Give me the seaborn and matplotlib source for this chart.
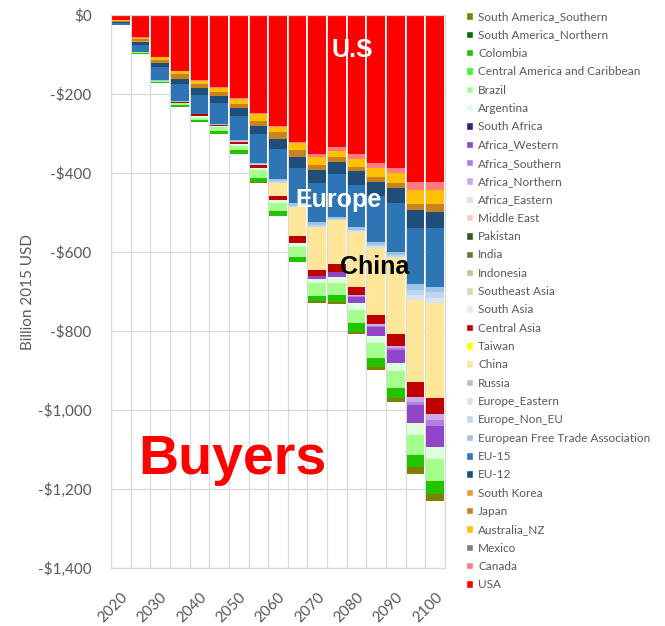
import numpy as np
import pandas as pd
import matplotlib
matplotlib.use("Agg")
import matplotlib.pyplot as plt
from matplotlib.patches import Patch
from matplotlib.ticker import FuncFormatter
import seaborn as sns

sns.set_style("white")
plt.rcParams["font.family"] = ["Lato", "DejaVu Sans"]

years = [2020, 2025, 2030, 2035, 2040, 2045, 2050, 2055, 2060,
         2065, 2070, 2075, 2080, 2085, 2090, 2095, 2100]

# spending on imports by region, billion 2015 USD (drawn as negative values)
usa          = [12.7, 56.5, 105.5, 141, 164.6, 183, 211, 249, 281, 321.5, 352, 334, 352.7, 375.4, 388, 422.8, 422.8]
canada       = [0.5, 1, 1, 1, 1.5, 1.5, 1.5, 2, 2, 2.5, 7.6, 9.4, 12.7, 11, 12.7, 20.3, 20.3]
mexico       = [0] * 17
australia_nz = [1.5, 4.3, 6.6, 8.4, 8.4, 11, 12.7, 17, 14.4, 18, 20, 16.7, 18.7, 24.3, 25.3, 35.4, 35.4]
japan        = [2, 5, 7.6, 11, 11, 10, 11, 12.7, 16.8, 17.7, 12.7, 11, 10, 11, 12.7, 15.2, 20.3]
south_korea  = [0.5, 0.5, 0.5, 0.5, 0.5, 0.5, 0.5, 0.5, 0.5, 0.5, 0.5, 0.5, 0.5, 0.5, 0.5, 0.5, 0.5]
eu_12        = [2.5, 7.6, 11, 12.7, 16.8, 16.8, 18.5, 21, 23.8, 27.8, 33, 32, 36.2, 36.2, 38, 45.6, 40.5]
eu_15        = [5.5, 17.7, 32, 44, 48, 54, 61, 72, 77.5, 88.6, 98.7, 107, 105.6, 115.7, 122.5, 141.8, 149.4]
efta         = [0.5, 1, 2.5, 1, 1, 1.5, 3, 4, 5, 6, 7, 5, 7, 8, 9, 15.2, 12.7]
europe_non_eu = [0, 0, 0, 0, 0, 0, 1.3, 1.8, 3.6, 4, 5.7, 3.4, 3.7, 4.2, 3.7, 12.7, 15.2]
europe_east  = [0, 0, 0, 0, 0, 0, 0, 0, 0, 0, 0, 0, 2, 3, 4, 12.7, 12.7]
russia       = [0] * 17
china        = [0, 0, 0, 0, 0, 0, 0, 0, 33.7, 74, 108.9, 111, 139, 170.4, 191.6, 207.6, 240.5]
taiwan       = [0] * 17
central_asia = [0, 0, 0, 2.5, 4.2, 3, 6.6, 6.8, 10, 16, 15.2, 19.5, 21, 22.8, 30.4, 38, 40.5]
south_asia   = [0] * 17
southeast_asia = [0] * 17
indonesia    = [0] * 17
india        = [0] * 17
pakistan     = [0] * 17
middle_east  = [0] * 17
africa_east  = [0] * 17
africa_north = [0, 0, 0, 0, 0, 0, 0, 0, 0, 0, 0, 2, 3, 4, 5, 12.7, 15.2]
africa_south = [0, 0, 0, 0, 0, 0, 0, 0, 0, 0, 0, 0, 2, 3, 5, 7.6, 15.2]
africa_west  = [0, 0, 0, 0, 0, 0, 0, 0, 0, 0, 7.6, 12, 16, 23.4, 33, 45.6, 53.2]
south_africa = [0] * 17
argentina    = [0, 0, 0, 0, 4.2, 3, 5, 5.8, 8.4, 10, 10, 15, 17, 17.7, 20.3, 30.4, 30.4]
brazil       = [0.5, 2, 3.8, 6.7, 5.9, 10, 10, 19.5, 19.5, 25, 33, 29.6, 33.7, 38, 43, 50.6, 55.7]
central_am   = [0] * 17
colombia     = [0, 2, 2, 4.2, 5, 7, 10, 11, 12.7, 12.7, 12.7, 19.5, 21.2, 22.8, 25.3, 30.4, 32.9]
sa_north     = [0] * 17
sa_south     = [0, 0, 0, 0, 0, 1, 0.5, 1, 1, 1.5, 5, 4, 5.8, 7.6, 10, 17.7, 17.7]

# stacking order, from the zero line downward
regions = ["USA", "Canada", "Mexico", "Australia_NZ", "Japan", "South Korea",
           "EU-12", "EU-15", "European Free Trade Association", "Europe_Non_EU",
           "Europe_Eastern", "Russia", "China", "Taiwan", "Central Asia",
           "South Asia", "Southeast Asia", "Indonesia", "India", "Pakistan",
           "Middle East", "Africa_Eastern", "Africa_Northern", "Africa_Southern",
           "Africa_Western", "South Africa", "Argentina", "Brazil",
           "Central America and Caribbean", "Colombia", "South America_Northern",
           "South America_Southern"]
values = [usa, canada, mexico, australia_nz, japan, south_korea, eu_12, eu_15,
          efta, europe_non_eu, europe_east, russia, china, taiwan, central_asia,
          south_asia, southeast_asia, indonesia, india, pakistan, middle_east,
          africa_east, africa_north, africa_south, africa_west, south_africa,
          argentina, brazil, central_am, colombia, sa_north, sa_south]
colors = ["#FF0000", "#FF7C80", "#7F7F7F", "#FFC000", "#C9821F", "#EE9B36",
          "#1F4E79", "#2E75B6", "#9DC3E6", "#BDD7EE",
          "#DAE3F3", "#BFBFBF", "#FFE699", "#FFFF00", "#C00000",
          "#E2EFDA", "#C6E0B4", "#A9D08E", "#548235", "#375623",
          "#F8CBAD", "#E6DCF5", "#CCA8EC", "#B07FE0",
          "#9146C8", "#3F1F6F", "#DDFFDD", "#A4FF8C",
          "#33FF33", "#22C400", "#0A6B0A", "#7F7F00"]
palette = dict(zip(regions, colors))

# cumulative (negative) depth of each layer; deeper layers drawn first
cum = -np.cumsum(np.array(values, dtype=float), axis=0)
rows = []
for r, reg in enumerate(regions):
    for j, yr in enumerate(years):
        rows.append({"year": str(yr), "region": reg, "cum": cum[r, j]})
df = pd.DataFrame(rows)

fig = plt.figure(figsize=(6.65, 6.26), dpi=100)
fig.subplots_adjust(left=111/665, right=445/665, top=1-15/626, bottom=1-568/626)
ax = fig.add_subplot(111)

sns.barplot(data=df, x="year", y="cum", hue="region", hue_order=regions[::-1],
            order=[str(y) for y in years], palette=palette, dodge=False,
            width=0.9, saturation=1, errorbar=None, legend=False,
            linewidth=0, ax=ax)

grey = "#d9d9d9"
txt = "#595959"
ax.set_xlim(-0.5, len(years) - 0.5)
ax.set_ylim(-1400, 0)
ax.set_yticks(np.arange(-1400, 1, 200))
ax.yaxis.set_major_formatter(FuncFormatter(
    lambda v, p: "$0" if v == 0 else "-${:,.0f}".format(abs(v))))
ax.set_xticks(range(0, len(years), 2))
ax.set_xticklabels([str(y) for y in years[::2]], rotation=45, ha="right",
                   rotation_mode="anchor")
ax.set_xticks(np.arange(-0.5, len(years), 1), minor=True)
ax.set_axisbelow(True)
ax.grid(axis="y", color=grey, lw=0.9)
ax.grid(axis="x", which="minor", color=grey, lw=0.9)
ax.grid(axis="x", which="major", visible=False)
ax.tick_params(axis="both", which="both", length=0, labelsize=11, labelcolor=txt)
ax.tick_params(axis="y", pad=14)
ax.tick_params(axis="x", pad=16)
for s in ax.spines.values():
    s.set_color(grey)
    s.set_linewidth(0.9)
ax.set_xlabel("")
ax.set_ylabel("Billion 2015 USD", fontsize=11, color=txt, labelpad=2)

bold = dict(family="Liberation Sans", weight="bold", ha="center", va="center",
            zorder=10)
ax.text(11.8, -89, "U.S", color="white", fontsize=18, **bold)
ax.text(11.1, -468, "Europe", color="white", fontsize=18, **bold)
ax.text(12.9, -638, "China", color="black", fontsize=18, **bold)
ax.text(5.7, -1127, "Buyers", color="#FF0000", fontsize=40, **bold)

handles = [Patch(facecolor=palette[r], label=r) for r in regions[::-1]]
fig.legend(handles=handles, loc="upper left", bbox_to_anchor=(458/665, 1-3/626),
           frameon=False, fontsize=8.5, labelcolor=txt, handlelength=0.6,
           handleheight=0.6, handletextpad=0.4, labelspacing=0.62, borderpad=0.2)

fig.savefig("out.png", dpi=100)
